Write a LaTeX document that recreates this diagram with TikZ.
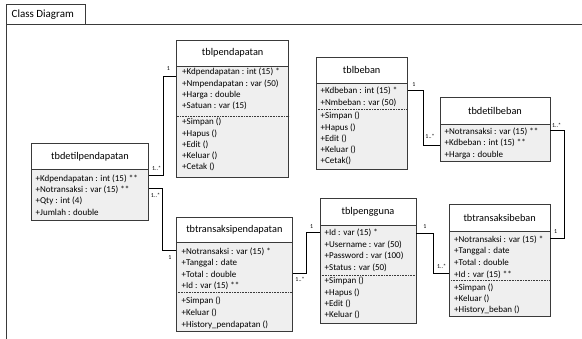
\documentclass[tikz,border=0pt]{standalone}
\usepackage{fontspec}
\setmainfont{Carlito}
\usetikzlibrary{fit}
\definecolor{boxline}{HTML}{3A3A3A}
\definecolor{bodyfill}{HTML}{EFEFEF}
\tikzset{
  boxborder/.style={draw=boxline, line width=0.9pt},
  rowtxt/.style={anchor=west, inner sep=0pt, text height=6.3pt, text depth=2pt, font=\fontsize{9}{10}\selectfont},
  titletxt/.style={inner sep=0pt, font=\fontsize{10.3}{12}\selectfont},
  multtxt/.style={inner sep=0pt, font=\fontsize{6}{7}\selectfont},
  sepline/.style={draw=boxline, line width=0.6pt, dash pattern=on 0.9pt off 0.7pt},
  conn/.style={draw=black, line width=0.8pt},
}
% name, title, left, right, top, header bottom, bottom
\newcommand{\umlbox}[7]{%
  \fill[bodyfill] (#3,#6) rectangle (#4,#7);
  \fill[white] (#3,#5) rectangle (#4,#6);
  \node[fit={(#3,#5) (#4,#7)}, inner sep=0pt, boxborder] (#1) {};
  \node[titletxt] (#1-title) at ({(#3+#4)/2},{(#5+#6)/2}) {#2};
  \draw[boxborder] (#3,#6) -- (#4,#6);
}
% name, x, y0, step, list
\newcommand{\umlrows}[5]{%
  \foreach \rowtext [count=\i from 0] in {#5}
    \node[rowtxt] (#1-\i) at (#2,{#3+\i*#4}) {\rowtext};
}
\begin{document}
\begin{tikzpicture}[x=1pt,y=-1pt]
\useasboundingbox (0,0) rectangle (582,339);
% frame
\coordinate (fbl) at (6,339);
\coordinate (ftl) at (6,24);
\coordinate (ftr) at (582,24);
\draw[boxborder] (fbl) -- (ftl) -- (ftr);
\draw[boxborder] (6,24) -- (6,4) -- (85,4) -- (85,24);
\node[inner sep=0pt, font=\fontsize{11}{13}\selectfont, anchor=west] (frametitle) at (11.5,14.5) {Class Diagram};

% tblpendapatan
\umlbox{tp}{tblpendapatan}{176.7}{288.7}{40}{66}{177}
\draw[sepline] (176.7,116.7) -- (288.7,116.7);
\umlrows{tpa}{182}{72.8}{11.3}{+Kdpendapatan : int (15) *,+Nmpendapatan : var (50),+Harga : double,+Satuan : var (15)}
\umlrows{tpo}{182}{122.8}{11.1}{+Simpan (),+Hapus (),+Edit (),+Keluar (),+Cetak ()}

% tbdetilpendapatan
\umlbox{tdp}{tbdetilpendapatan}{31.7}{148.3}{143.3}{169.8}{220}
\umlrows{tdpa}{35.5}{179.3}{11.2}{+Kdpendapatan : int (15) **,+Notransaksi : var (15) **,+Qty : int (4),+Jumlah : double}

% tbtransaksipendapatan
\umlbox{ttp}{tbtransaksipendapatan}{176}{292.7}{217}{242}{331.7}
\umlrows{ttpa}{181.5}{252}{11.6}{+Notransaksi : var (15) *,+Tanggal : date,+Total : double,+Id : var (15) **}
\draw[sepline] (176,292.5) -- (292.7,292.5);
\umlrows{ttpo}{181.5}{301}{12}{+Simpan (),+Keluar (),+History\_pendapatan ()}

% tblbeban
\umlbox{tb}{tblbeban}{316}{407.3}{57}{83.3}{169.3}
\umlrows{tba}{320.5}{91.7}{11.6}{+Kdbeban : int (15) *,+Nmbeban : var (50)}
\draw[sepline] (316,109.3) -- (407.3,109.3);
\umlrows{tbo}{320.5}{116.7}{11.2}{+Simpan (),+Hapus (),+Edit (),+Keluar (),+Cetak()}

% tbdetilbeban
\umlbox{tdb}{tbdetilbeban}{440}{550}{97.7}{124.3}{161.7}
\umlrows{tdba}{444.5}{132.5}{11.3}{+Notransaksi : var (15) **,+Kdbeban : int (15) **,+Harga : double}

% tblpengguna
\umlbox{tpg}{tblpengguna}{320}{416}{198.3}{225}{323.3}
\umlrows{tpga}{324.5}{233.3}{11.6}{+Id : var (15) *,+Username : var (50),+Password : var (100),+Status : var (50)}
\draw[sepline] (320,275) -- (416,275);
\umlrows{tpgo}{324.5}{281.5}{11.4}{+Simpan (),+Hapus (),+Edit (),+Keluar ()}

% tbtransaksibeban
\umlbox{ttb}{tbtransaksibeban}{449.3}{550}{204.3}{231.7}{316.7}
\umlrows{ttba}{454}{240}{11.7}{+Notransaksi : var (15) *,+Tanggal : date,+Total : double,+Id : var (15) **}
\draw[sepline] (449.3,280.5) -- (550,280.5);
\umlrows{ttbo}{454}{288}{11.2}{+Simpan (),+Keluar (),+History\_beban ()}

% connectors
\draw[conn] (tp.west |- 0,76.7) -- (163.5,76.7) |- (tdp.east |- 0,175);
\node[multtxt] (m1a) at (168.3,69) {1};
\node[multtxt] (m1b) at (156.7,168.3) {1..*};

\draw[conn] (tdp.east |- 0,188.3) -- (162.7,188.3) |- (ttp.west |- 0,250);
\node[multtxt] (m2a) at (155.5,195.7) {1..*};
\node[multtxt] (m2b) at (170,257.7) {1};

\draw[conn] (tb.east |- 0,90) -- (423.3,90) |- (tdb.west |- 0,145);
\node[multtxt] (m3a) at (414,85) {1};
\node[multtxt] (m3b) at (430,136.5) {1..*};

\draw[conn] (tdb.east |- 0,130) -- (564,130) |- (ttb.east |- 0,238.3);
\node[multtxt] (m4a) at (556.7,125.7) {1..*};
\node[multtxt] (m4b) at (555.7,231.7) {1};

\draw[conn] (ttp.east |- 0,273.3) -- (306.7,273.3) |- (tpg.west |- 0,232.7);
\node[multtxt] (m5a) at (300,279) {1..*};
\node[multtxt] (m5b) at (311.7,226.7) {1};

\draw[conn] (tpg.east |- 0,233.3) -- (433.3,233.3) |- (ttb.west |- 0,273.3);
\node[multtxt] (m6a) at (425,226.7) {1};
\node[multtxt] (m6b) at (441.7,266.7) {1..*};
\end{tikzpicture}
\end{document}
